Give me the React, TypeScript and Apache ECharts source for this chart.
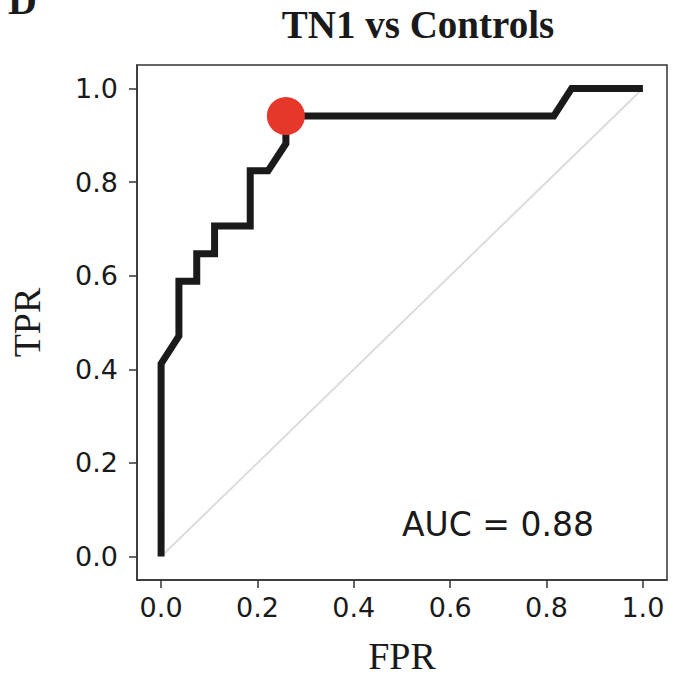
import React, { useEffect, useRef } from "react";
import * as echarts from "echarts";

// ROC curve
const fprValues = [0, 0, 0.037, 0.037, 0.074, 0.074, 0.111, 0.111, 0.185, 0.185, 0.222, 0.259, 0.259, 0.815, 0.852, 1.0];
const tprValues = [0, 0.412, 0.471, 0.588, 0.588, 0.647, 0.647, 0.706, 0.706, 0.824, 0.824, 0.882, 0.941, 0.941, 1.0, 1.0];
// optimal cut-off point
const bestPoint = [0.259, 0.941];
// chance diagonal
const chanceX = [0, 1];
const chanceY = [0, 1];
// ticks
const xTicks = [0, 0.2, 0.4, 0.6, 0.8, 1.0];
const yTicks = [0, 0.2, 0.4, 0.6, 0.8, 1.0];
const aucText = "AUC = 0.88";
const aucPos = [0.5, 0.05];
const titleText = "TN1 vs Controls";

export default function App() {
  const ref = useRef<HTMLDivElement>(null);
  useEffect(() => {
    document.body.style.margin = "0";
    if (!ref.current) return;
    const chart = echarts.init(ref.current, null, { renderer: "svg" });
    const tickFont = { fontFamily: "DejaVu Sans", fontSize: 27, color: "#1a1a1a" };
    const frame = "#333333";
    chart.setOption({
      animation: false,
      backgroundColor: "#ffffff",
      title: {
        text: titleText,
        left: 413,
        top: 0,
        textAlign: "center",
        textStyle: { fontFamily: "Liberation Serif", fontWeight: "bold", fontSize: 39, color: "#1a1a1a" },
      },
      graphic: [
        {
          type: "text",
          left: 8,
          top: -20,
          style: { text: "D", fontFamily: "Liberation Serif", fontWeight: "bold", fontSize: 40, fill: "#1a1a1a" },
        },
      ],
      grid: {
        left: 137,
        right: 8,
        top: 65,
        bottom: 99,
        outerBoundsMode: "none",
        containLabel: false,
        show: true,
        borderColor: frame,
        borderWidth: 1.5,
        backgroundColor: "#ffffff",
      },
      xAxis: {
        type: "value",
        min: -0.05,
        max: 1.05,
        name: "FPR",
        nameLocation: "middle",
        nameGap: 57,
        nameTextStyle: { fontFamily: "Liberation Serif", fontSize: 38, color: "#1a1a1a" },
        axisLine: { show: true, onZero: false, lineStyle: { color: frame, width: 1.5 } },
        axisTick: { show: true, inside: false, length: 8, customValues: xTicks, lineStyle: { color: frame, width: 1.5 } },
        axisLabel: { ...tickFont, margin: 14, customValues: xTicks, formatter: (v: number) => v.toFixed(1) },
        splitLine: { show: false },
      },
      yAxis: {
        type: "value",
        min: -0.05,
        max: 1.05,
        name: "TPR",
        nameLocation: "middle",
        nameGap: 91,
        nameTextStyle: { fontFamily: "Liberation Serif", fontSize: 38, color: "#1a1a1a" },
        axisLine: { show: true, onZero: false, lineStyle: { color: frame, width: 1.5 } },
        axisTick: { show: true, inside: false, length: 8, customValues: yTicks, lineStyle: { color: frame, width: 1.5 } },
        axisLabel: { ...tickFont, margin: 19, customValues: yTicks, formatter: (v: number) => v.toFixed(1) },
        splitLine: { show: false },
      },
      series: [
        {
          type: "line",
          data: chanceX.map((x, i) => [x, chanceY[i]]),
          showSymbol: false,
          lineStyle: { color: "#dcdcdc", width: 2 },
          z: 1,
          silent: true,
        },
        {
          type: "line",
          data: fprValues.map((x, i) => [x, tprValues[i]]),
          showSymbol: false,
          lineStyle: { color: "#1a1a1a", width: 7, join: "miter" },
          z: 2,
          silent: true,
        },
        {
          type: "scatter",
          data: [bestPoint],
          symbolSize: 38,
          itemStyle: { color: "#e5382b", opacity: 1 },
          z: 3,
          silent: true,
        },
        {
          type: "scatter",
          data: [aucPos],
          symbolSize: 0,
          silent: true,
          itemStyle: { opacity: 1 },
          label: {
            show: true,
            formatter: aucText,
            position: "right",
            distance: 0,
            offset: [0, -9],
            fontFamily: "DejaVu Sans",
            fontSize: 33,
            color: "#1a1a1a",
            opacity: 1,
          },
        },
      ],
    });
    return () => chart.dispose();
  }, []);
  return <div ref={ref} style={{ width: 675, height: 679 }} />;
}
